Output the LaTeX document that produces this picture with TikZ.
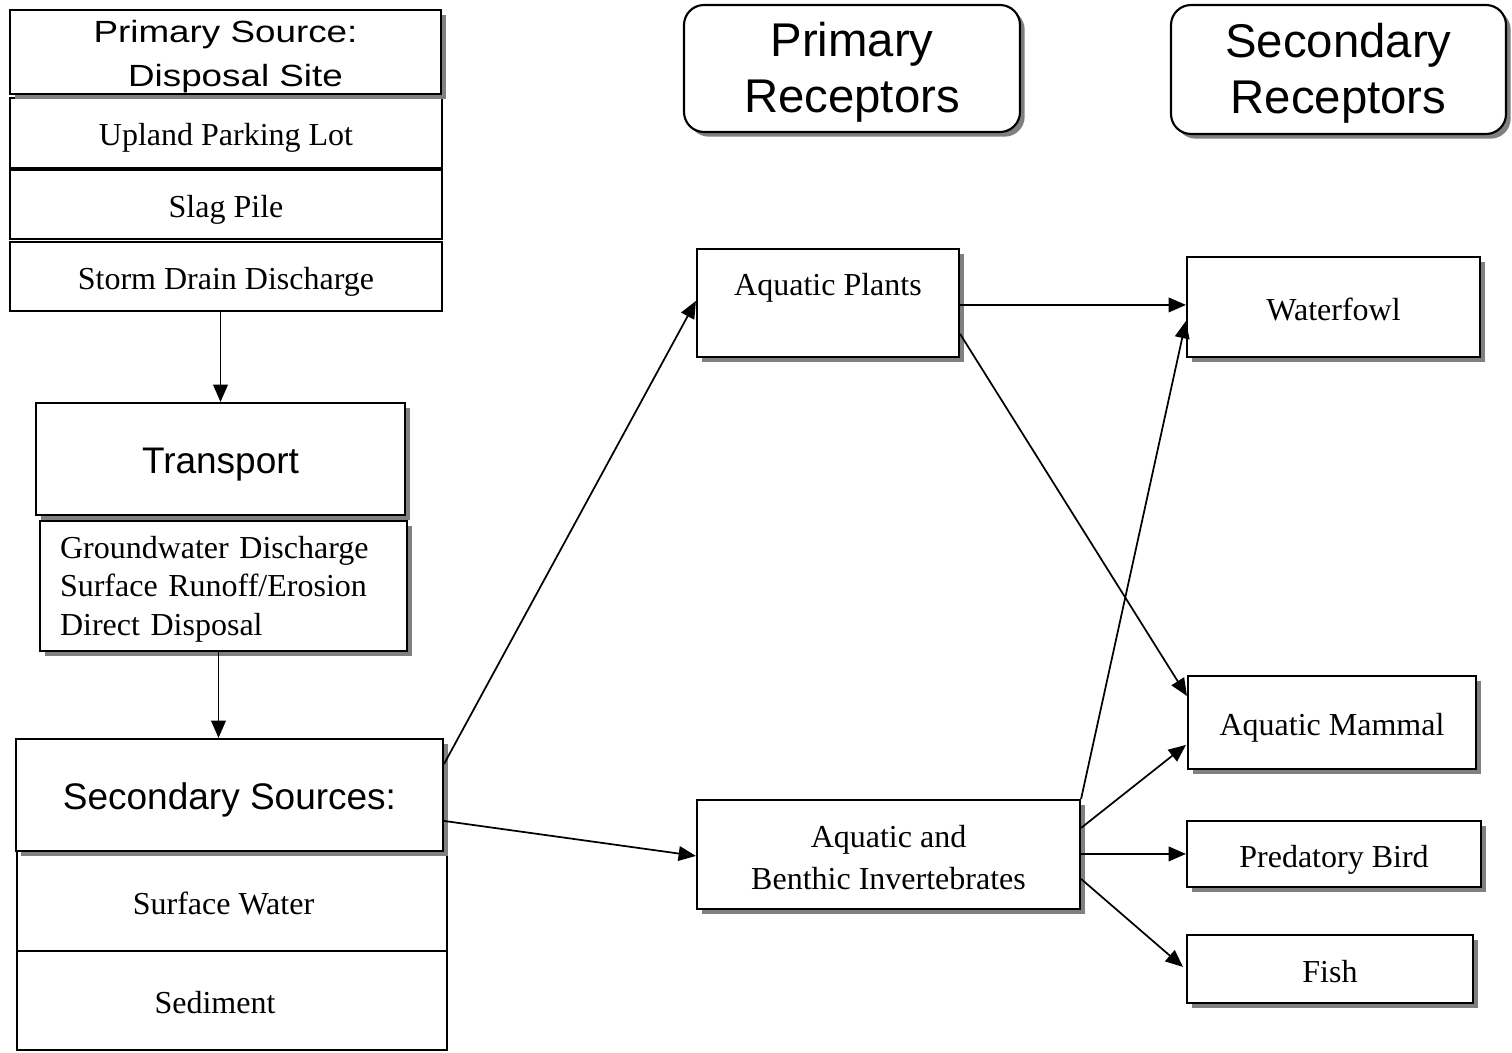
\documentclass[tikz,border=0pt]{standalone}
\usepackage{fontspec}
\setmainfont{Liberation Serif}
\setsansfont{Liberation Sans}
\newfontfamily\widesans[FakeStretch=1.2]{Liberation Sans}
\usetikzlibrary{arrows.meta,shadows,calc}
\newcommand\mybox[7][]{\node[box,#1,minimum width={(#5-#3)*0.75pt},minimum height={(#6-#4)*0.75pt}] (#2) at ({(#3+#5)/2},{(#4+#6)/2}) {#7};}
\tikzset{
  box/.style={draw,line width=1.6pt,fill=white,inner sep=0pt,align=center,
    text height=19.5pt,text depth=0pt,
    font=\fontsize{24}{28.5}\selectfont},
  shd/.style={drop shadow={shadow xshift=3.5pt,shadow yshift=-3.5pt,fill=black!50,opacity=1}},
  sans/.style={font=\sffamily\fontsize{27.75}{33}\selectfont,text height=21pt},
  head/.style={rounded corners=15pt,font=\sffamily\fontsize{35.5}{42}\selectfont,text height=66.5pt,text depth=0pt},
  arr/.style={line width=1.3pt,-{Triangle[length=13pt,width=11pt]}}
}
\begin{document}
\begin{tikzpicture}[x=0.75pt,y=-0.75pt]
\useasboundingbox (0,0) rectangle (1512,1052);
% primary source column
\mybox{up}{10}{98}{442}{168}{Upland Parking Lot}
\mybox[shd,font=\widesans\fontsize{23}{33}\selectfont,text height=52.5pt,text depth=0pt]{ps}{10}{10}{441}{94}{Primary Source:\\\hspace*{15pt}Disposal Site}
\mybox{sp}{10}{170}{442}{239}{Slag Pile}
\mybox{sd}{10}{242}{442}{311}{Storm Drain Discharge}
\mybox[shd,sans]{tr}{36}{403}{405}{515}{Transport}
\mybox[shd,text width={(407-40-40)*0.75pt},align=left,font=\fontsize{24}{29}\selectfont,text height=19pt,text depth=61pt]{gw}{40}{521}{407}{651}{Groundwater Discharge\\Surface Runoff/Erosion\\Direct Disposal}
\mybox{sw}{17}{851}{447}{951}{Surface Water\hspace*{12.75pt}}
\mybox{se}{17}{951}{447}{1050}{Sediment\hspace*{25.5pt}}
\mybox[shd,sans]{ss}{16}{739}{443}{851}{Secondary Sources:}
% headers
\mybox[shd,head]{pr}{684}{5}{1020}{132}{Primary\\Receptors}
\mybox[shd,head]{sr}{1171}{5}{1506}{134}{Secondary\\Receptors}
% primary receptors
\mybox[shd,text height=17pt,text depth=29pt]{ap}{697}{249}{959}{357}{Aquatic Plants}
\mybox[shd,font=\fontsize{24}{31.5}\selectfont,text height=51.75pt,text depth=0pt]{ai}{697}{800}{1080}{909}{Aquatic and\\Benthic Invertebrates}
% secondary receptors
\mybox[shd]{wf}{1187}{257}{1480}{357}{Waterfowl}
\mybox[shd]{am}{1188}{676}{1476}{769}{Aquatic Mammal}
\mybox[shd]{pb}{1187}{821}{1481}{887}{Predatory Bird}
\mybox[shd]{fi}{1187}{935}{1473}{1003}{Fish}
% connectors
\draw[arr] (sd.south -| tr.north) -- (tr.north);
\draw[arr] ($(gw.south)+(-5,0)$) -- ($(ss.north)+(-11,0)$);
\draw[arr] ($(ss.north east)+(0,26)$) -- ($(ap.north west)+(0,53)$);
\draw[arr] ($(ss.north east)+(0,83)$) -- ($(ai.north west)+(0,57)$);
\draw[arr] ($(ap.north east)+(0,57)$) -- ($(wf.north west)+(0,49)$);
\draw[arr] ($(ap.north east)+(0,86)$) -- ($(am.north west)+(0,21)$);
\draw[arr] (ai.north east) -- ($(wf.north west)+(0,65)$);
\draw[arr] ($(ai.north east)+(0,29)$) -- ($(am.north west)+(-1,70)$);
\draw[arr] ($(ai.north east)+(0,55)$) -- ($(pb.north west)+(0,34)$);
\draw[arr] ($(ai.north east)+(0,80)$) -- ($(fi.north west)+(-3,33)$);
\end{tikzpicture}
\end{document}
